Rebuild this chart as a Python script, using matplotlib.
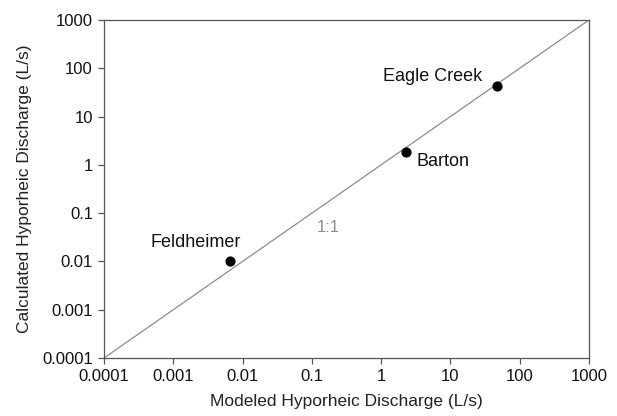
import matplotlib
matplotlib.use("Agg")
import matplotlib.pyplot as plt
from matplotlib.ticker import FixedLocator, FixedFormatter, NullLocator

plt.rcParams['font.family'] = ['Liberation Sans', 'DejaVu Sans']

sites = ['Feldheimer', 'Barton', 'Eagle Creek']
modeled = [0.0066, 2.28, 47]
calculated = [0.0102, 1.84, 43]

tick_vals = [0.0001, 0.001, 0.01, 0.1, 1, 10, 100, 1000]
tick_labels = ['0.0001', '0.001', '0.01', '0.1', '1', '10', '100', '1000']

# label offsets in pixels from the point (text baseline, left edge)
offsets = {'Feldheimer': (-80, 14), 'Barton': (11, -14), 'Eagle Creek': (-114, 5)}

fig = plt.figure(figsize=(6.17, 4.16), dpi=100)
ax = fig.add_axes([0.1686, 0.1394, 0.786, 0.8126])

ax.plot([1e-4, 1e3], [1e-4, 1e3], color='#8c8c8c', lw=0.9, zorder=1)
ax.scatter(modeled, calculated, s=40, color='black', zorder=3)

for name, x, y in zip(sites, modeled, calculated):
    dx, dy = offsets[name]
    ax.annotate(name, (x, y), xytext=(dx, dy), textcoords='offset pixels',
                fontsize=13, va='baseline', ha='left', color='#111111')

ax.text(0.17, 0.041, '1:1', fontsize=12, color='#8c8c8c', ha='center', va='baseline')

ax.set_xscale('log')
ax.set_yscale('log')
ax.set_xlim(1e-4, 1e3)
ax.set_ylim(1e-4, 1e3)
for axis in (ax.xaxis, ax.yaxis):
    axis.set_major_locator(FixedLocator(tick_vals))
    axis.set_major_formatter(FixedFormatter(tick_labels))
    axis.set_minor_locator(NullLocator())

ax.tick_params(direction='out', length=4, width=0.9, color='#555555', labelsize=12,
               labelcolor='#111111', pad=4)
for side in ('left', 'bottom', 'right', 'top'):
    ax.spines[side].set_color('#555555')
    ax.spines[side].set_linewidth(0.9)

ax.set_xlabel('Modeled Hyporheic Discharge (L/s)', fontsize=12.5, labelpad=7, color='#222222')
ax.set_ylabel('Calculated Hyporheic Discharge (L/s)', fontsize=12.5, labelpad=7, color='#222222')

fig.savefig('out.png', dpi=100)
